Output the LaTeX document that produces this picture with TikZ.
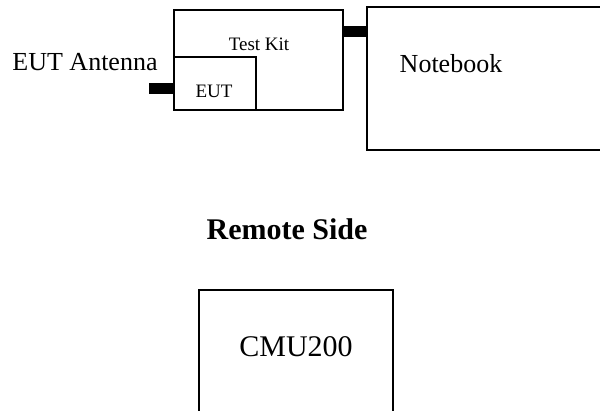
\documentclass[tikz,border=0pt]{standalone}
\usepackage{fontspec}
\setmainfont{Liberation Serif}
\begin{document}
\begin{tikzpicture}[x=1pt,y=-1pt,
  box/.style={draw=black,line width=1.5pt,fill=none},
  plug/.style={fill=black,draw=none},
  lbl/.style={inner sep=0pt,anchor=center}]
\useasboundingbox (0,0) rectangle (600,411);
\clip (0,0) rectangle (600,411);
% Test kit
\draw[box] (174,10) rectangle (343,110);
\coordinate (tk) at (259,10);
\draw[box] (174,57) -| (256,110);
% antenna stub
\fill[plug] (149,83) rectangle (174,94);
% connector to notebook
\fill[plug] (343,26) rectangle (367,37);
% Notebook
\draw[box] (367,7) rectangle (640,150);
% CMU200
\draw[box] (199,290) rectangle (393,440);
% texts
\node[lbl,font=\fontsize{19}{22}\selectfont] (tktext) at (259,44) {Test Kit};
\node[lbl,font=\fontsize{19}{22}\selectfont] (euttext) at (214,91) {EUT};
\node[lbl,font=\fontsize{26}{30}\selectfont] (ant) at (85,62) {EUT Antenna};
\node[lbl,font=\fontsize{26}{30}\selectfont] (nb) at (451,64) {Notebook};
\node[lbl,font=\fontsize{30}{34}\selectfont\bfseries] (rs) at (287,229) {Remote Side};
\node[lbl,font=\fontsize{30}{34}\selectfont] (cmu) at (296,347) {CMU200};
\end{tikzpicture}
\end{document}
